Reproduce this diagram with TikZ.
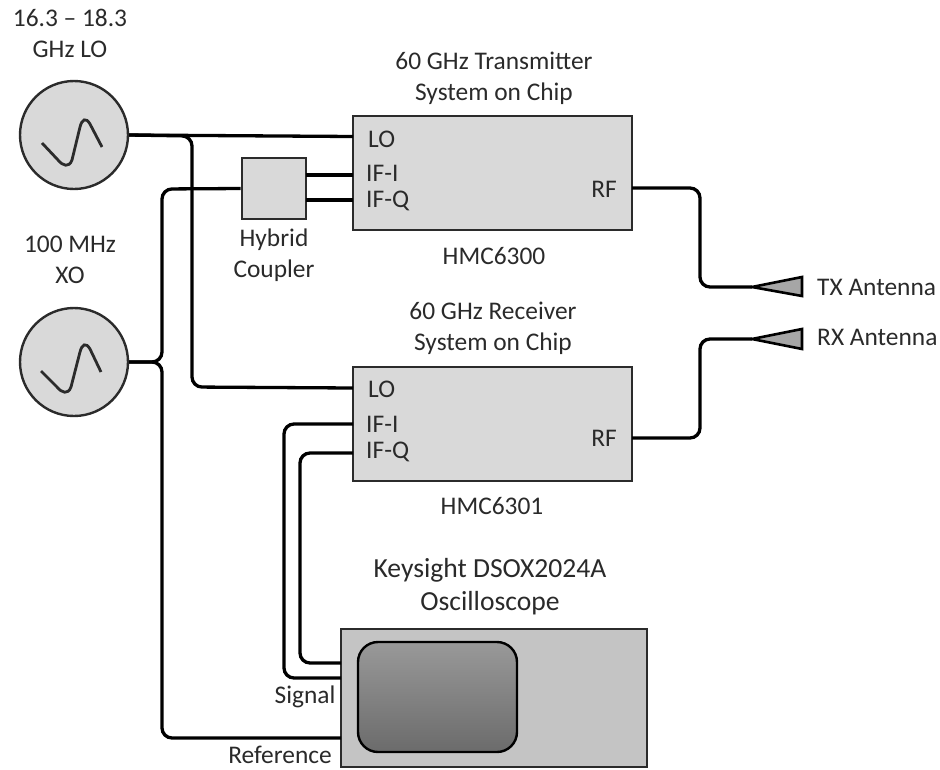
\documentclass[tikz,border=0pt]{standalone}
\usepackage{fontspec}
\setmainfont{Carlito}
\usetikzlibrary{shapes.geometric}
\definecolor{fillgray}{HTML}{D9D9D9}
\definecolor{edgegray}{HTML}{2B2B2B}
\definecolor{textgray}{HTML}{2A2A2A}
\tikzset{
  x=1pt,y=-1pt,
  lbl/.style={font=\fontsize{25.4}{31}\selectfont,text=textgray,inner sep=0pt,align=center},
  scopelbl/.style={font=\fontsize{27.6}{33}\selectfont,text=textgray,inner sep=0pt,align=center},
  port/.style={lbl,anchor=west},
  blockbox/.style={draw=edgegray,line width=2.6pt,fill=fillgray,minimum width=279pt,minimum height=114pt,inner sep=0pt},
  oscbox/.style={circle,draw=edgegray,line width=2.4pt,fill=fillgray,minimum size=108pt,inner sep=0pt},
  wire/.style={draw=black,line width=3.3pt,rounded corners=10pt},
  sinestroke/.style={draw=edgegray,line width=2.8pt},
  antennashape/.style={draw=black,line width=2.6pt,fill=black!35,line join=miter}
}
\begin{document}
\begin{tikzpicture}
\useasboundingbox (0,0) rectangle (940,769);
% blocks
\node[oscbox] (lo) at (74,135) {};
\node[oscbox] (xo) at (74,362) {};
\node[blockbox] (tx) at (492.5,173) {};
\node[blockbox] (rx) at (492.5,424) {};
\node[draw=edgegray,line width=2.6pt,fill=fillgray,minimum width=64pt,minimum height=61pt,inner sep=0pt] (hyb) at (274,188.5) {};
\node[draw=edgegray,line width=2.6pt,fill=black!23,minimum width=306pt,minimum height=138pt,inner sep=0pt] (scope) at (494,698) {};
\node[draw=black,line width=2.4pt,rounded corners=20pt,top color=black!40,bottom color=black!58,minimum width=159pt,minimum height=110pt,inner sep=0pt] (screen) at (437.5,697) {};
% antennas
\coordinate (txtip) at (752,287);
\coordinate (rxtip) at (752,339);
% port coordinates
\coordinate (txlo) at (353,136.5);
\coordinate (txi) at (353,175);
\coordinate (txq) at (353,200);
\coordinate (txrf) at (632,188);
\coordinate (rxlo) at (353,388);
\coordinate (rxi) at (353,424);
\coordinate (rxq) at (353,453);
\coordinate (rxrf) at (632,438);
\coordinate (hybi) at (306,175);
\coordinate (hybq) at (306,200);
\coordinate (scq) at (341,663);
\coordinate (sci) at (341,678);
\coordinate (scr) at (341,738);
% wires
\draw[line width=3.3pt] (lo.east) -- (txlo);
\draw[wire] (lo.east) -- (192,136) -- (192,387) -- (rxlo);
\draw[wire] (xo.east) -- (162,362) -- (162,189) -- (hyb.west);
\draw[wire] (xo.east) -- (162,362) -- (162,738) -- (scr);
\draw[wire] (hybi) -- (txi);
\draw[wire] (hybq) -- (txq);
\draw[wire] (rxi) -- (284,424) -- (284,678) -- (sci);
\draw[wire] (rxq) -- (300,453) -- (300,663) -- (scq);
\draw[wire] (txrf) -- (700,188) -- (700,287) -- (txtip);
\draw[wire] (rxrf) -- (700,438) -- (700,339) -- (rxtip);
\draw[antennashape] (txtip) -- (802,277) -- (802,296) -- cycle;
\draw[antennashape] (rxtip) -- (802,329) -- (802,349) -- cycle;
% sine glyphs
\draw[sinestroke] (42,143) -- (58,160) .. controls (63,166) and (69,168) .. (72,160) -- (80,127) .. controls (82,119) and (86,117) .. (90,124) -- (102,147);
\draw[sinestroke] (41,371) -- (57,387) .. controls (62,393) and (68,395) .. (71,387) -- (80,352) .. controls (82,344) and (86,342) .. (90,349) -- (101,372);
% labels
\node[lbl] (t1) at (70,33) {16.3 – 18.3\\GHz LO};
\node[lbl] (t2) at (70,260) {100 MHz\\XO};
\node[lbl] (t3) at (494,78) {60 GHz Transmitter\\System on Chip};
\node[lbl] (t4) at (493,328) {60 GHz Receiver\\System on Chip};
\node[lbl] (t5) at (274,255) {Hybrid\\Coupler};
\node[lbl] (t6) at (494,256) {HMC6300};
\node[lbl] (t7) at (492,506) {HMC6301};
\node[scopelbl] (t8) at (490,587) {Keysight DSOX2024A\\Oscilloscope};
\node[lbl] (t9) at (305,697) {Signal};
\node[lbl] (t10) at (280,755) {Reference};
\node[port] (p1) at (368,139) {LO};
\node[port] (p2) at (366,173) {IF-I};
\node[port] (p3) at (366,201) {IF-Q};
\node[lbl] (p4) at (604,189) {RF};
\node[port] (p5) at (368,389) {LO};
\node[port] (p6) at (366,424) {IF-I};
\node[port] (p7) at (366,452) {IF-Q};
\node[lbl] (p8) at (604,438) {RF};
\node[port] (a1) at (817,287) {TX Antenna};
\node[port] (a2) at (817,337) {RX Antenna};
\end{tikzpicture}
\end{document}
